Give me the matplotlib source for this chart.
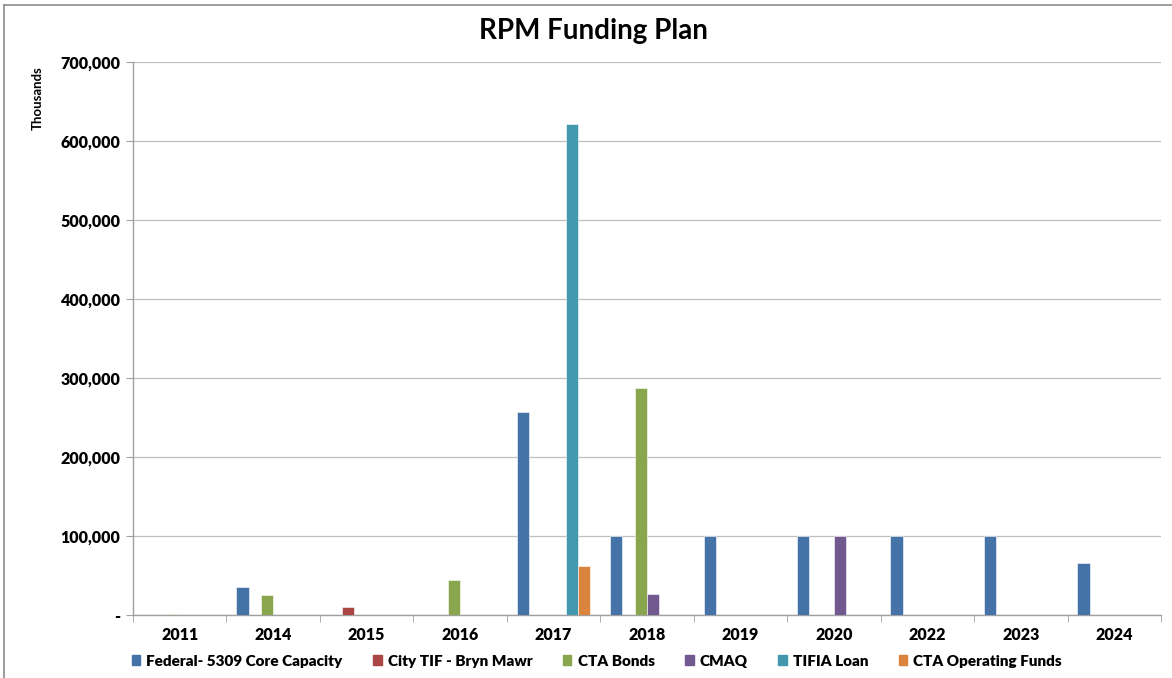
import matplotlib
matplotlib.use("Agg")
import matplotlib.pyplot as plt
import numpy as np
from matplotlib.ticker import FuncFormatter
from matplotlib.lines import Line2D

plt.rcParams['font.family'] = ['Lato', 'DejaVu Sans']

years = ["2011", "2014", "2015", "2016", "2017", "2018",
         "2019", "2020", "2022", "2023", "2024"]

# values in thousands
federal_5309 = [0, 35000, 0, 0, 257000, 100000, 100000, 100000, 100000, 100000, 66000]
city_tif = [0, 0, 10000, 0, 0, 0, 0, 0, 0, 0, 0]
cta_bonds = [1500, 25000, 0, 44000, 0, 287000, 0, 0, 0, 0, 0]
cmaq = [0, 0, 0, 0, 0, 26000, 0, 100000, 0, 0, 0]
tifia_loan = [0, 0, 0, 0, 621000, 0, 0, 0, 0, 0, 0]
cta_operating = [0, 0, 0, 0, 62000, 0, 0, 0, 0, 0, 0]

series_names = ["Federal- 5309 Core Capacity", "City TIF - Bryn Mawr", "CTA Bonds",
                "CMAQ", "TIFIA Loan", "CTA Operating Funds"]
series_values = [federal_5309, city_tif, cta_bonds, cmaq, tifia_loan, cta_operating]
colors = ["#4572a7", "#aa4643", "#89a54e", "#71588f", "#4198af", "#db843d"]

fig = plt.figure(figsize=(11.72, 6.78), dpi=100)
ax = fig.add_axes([133 / 1172, 1 - 615 / 678, (1161 - 133) / 1172, (615 - 62) / 678])

x = np.arange(len(years))
n = len(series_values)
width = 0.79 / n
for i, (name, vals, c) in enumerate(zip(series_names, series_values, colors)):
    offs = (i - (n - 1) / 2) * width
    ax.bar(x + offs, vals, width=width, color=c, edgecolor="white",
           linewidth=0.4, label=name, zorder=3)

ax.set_xlim(-0.5, len(years) - 0.5)
ax.set_ylim(0, 700000)
ax.set_yticks(np.arange(0, 700001, 100000))
ax.yaxis.set_major_formatter(FuncFormatter(lambda v, p: "-" if v == 0 else f"{int(v):,}"))
ax.grid(axis="y", color="#bfbfbf", linewidth=0.9, zorder=0)
ax.set_axisbelow(True)

ax.set_xticks(x)
ax.set_xticklabels(years, fontsize=11.5, fontweight="heavy")
ax.tick_params(axis="x", length=0, pad=9)
# category separator ticks
ax.set_xticks(np.arange(-0.5, len(years), 1), minor=True)
ax.tick_params(axis="x", which="minor", length=5, color="#a0a0a0", direction="out")
ax.tick_params(axis="y", length=5, color="#a0a0a0", labelsize=11.5, pad=4)
for lbl in ax.get_yticklabels():
    lbl.set_fontweight("heavy")

for side in ["top", "right"]:
    ax.spines[side].set_visible(False)
for side in ["left", "bottom"]:
    ax.spines[side].set_color("#a0a0a0")
    ax.spines[side].set_linewidth(1.0)

fig.text(38 / 1172, 1 - 98 / 678, "Thousands", rotation=90, ha="center", va="center",
         fontsize=9.5, fontweight="bold", family=["Liberation Sans Narrow", "Lato"])

fig.text(593 / 1172, 1 - 31 / 678, "RPM Funding Plan", ha="center", va="center",
         fontsize=20, fontweight="bold")

handles = [plt.Rectangle((0, 0), 1, 1, color=c) for c in colors]
leg = fig.legend(handles, series_names, loc="center", bbox_to_anchor=(597 / 1172, 1 - 661 / 678),
                 ncol=6, frameon=False, fontsize=11, handlelength=0.55, handleheight=0.55,
                 handletextpad=0.4, columnspacing=2.0)
for t in leg.get_texts():
    t.set_fontweight("heavy")

# chart area border (top and left)
fig.add_artist(Line2D([4 / 1172, 1], [1 - 5 / 678, 1 - 5 / 678], color="#8c8c8c", linewidth=1.2))
fig.add_artist(Line2D([4 / 1172, 4 / 1172], [0, 1 - 5 / 678], color="#8c8c8c", linewidth=1.2))

fig.savefig("out.png", dpi=100)
